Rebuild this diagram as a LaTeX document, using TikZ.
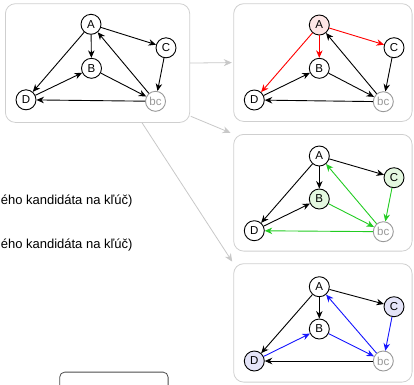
\documentclass[tikz,border=0pt]{standalone}
\usepackage{fontspec}
\setmainfont{Liberation Sans}
\usetikzlibrary{arrows.meta,calc}
\definecolor{panelgray}{HTML}{CFCFCF}
\definecolor{linkgray}{HTML}{C8C8C8}
\definecolor{ered}{HTML}{FF0000}
\definecolor{egreen}{HTML}{22CC22}
\definecolor{eblue}{HTML}{1414FF}
\definecolor{fred}{HTML}{FDE6E6}
\definecolor{fgreen}{HTML}{E4F8E0}
\definecolor{fblue}{HTML}{E4E4F8}
\definecolor{bcgray}{HTML}{999999}
\begin{document}
\begin{tikzpicture}[x=1pt,y=-1pt,
  vtx/.style={circle,draw=black,line width=0.9pt,minimum size=20pt,inner sep=0pt,
    font=\fontsize{11.5}{13}\selectfont,fill=white},
  bcvtx/.style={vtx,draw=bcgray,text=bcgray},
  edge/.style={-{Stealth[length=7.5pt,width=6.5pt]},line width=0.9pt,draw=black},
  panel/.style={draw=panelgray,rounded corners=10pt,line width=0.8pt,
    anchor=north west,inner sep=0pt},
  link/.style={draw=linkgray,line width=0.8pt,-{Stealth[length=8pt,width=7pt]}},
  caption/.style={anchor=base west,inner sep=0pt,font=\fontsize{13}{15}\selectfont}
]
\clip (0,0) rectangle (414,384);

% panels
\node[panel,minimum width=184.3pt,minimum height=118.7pt] (p1) at (5,3.3) {};
\node[panel,minimum width=178.4pt,minimum height=117.7pt] (p2) at (233.3,3.3) {};
\node[panel,minimum width=178.4pt,minimum height=116.7pt] (p3) at (233.3,134) {};
\node[panel,minimum width=178.4pt,minimum height=118.4pt] (p4) at (233.3,263.3) {};

% links between panels
\coordinate (l2a) at ($(p1.south east)+(0.7,-6.5)$);
\coordinate (l3a) at ($(p1.south)+(44.5,0)$);
\draw[link,shorten >=1.5pt] (p1.east) -- (p2.west);
\draw[link,shorten >=3pt] (l2a) -- (p3.north west);
\draw[link,shorten >=2pt] (l3a) -- (p4.north west);

% captions
\node[caption] (t1) at (0.6,204.3) {ého kandidáta na kľúč)};
\node[caption] (t2) at (0.6,248.3) {ého kandidáta na kľúč)};

% bottom box
\node[draw=black!70,rounded corners=5pt,line width=0.8pt,anchor=north west,
  minimum width=108.4pt,minimum height=30pt] (bx) at (59.3,371.7) {};

% panel 1
\begin{scope}[shift={(5,3.3)}]
\node[vtx] (a1) at (86,21) {A};
\node[vtx] (b1) at (86.5,65) {B};
\node[vtx] (c1) at (161,44.5) {C};
\node[vtx] (d1) at (21,96.5) {D};
\node[bcvtx] (e1) at (150.5,98) {bc};
\end{scope}
\draw[edge] (a1) -- (b1);
\draw[edge] (a1) -- (c1);
\draw[edge] (a1) -- (d1);
\draw[edge] (b1) -- (e1);
\draw[edge] (c1) -- (e1);
\draw[edge] (e1) -- (a1);
\draw[edge] (e1) -- (d1);
\draw[edge] (d1) -- (b1);

% panel 2
\begin{scope}[shift={(233.3,3.3)}]
\node[vtx,fill=fred] (a2) at (86,21.7) {A};
\node[vtx] (b2) at (86,65) {B};
\node[vtx] (c2) at (160.7,44.4) {C};
\node[vtx] (d2) at (21,96.7) {D};
\node[bcvtx] (e2) at (150,98.4) {bc};
\end{scope}
\draw[edge,draw=ered,color=ered] (a2) -- (b2);
\draw[edge,draw=ered,color=ered] (a2) -- (c2);
\draw[edge,draw=ered,color=ered] (a2) -- (d2);
\draw[edge] (b2) -- (e2);
\draw[edge] (c2) -- (e2);
\draw[edge] (e2) -- (a2);
\draw[edge] (e2) -- (d2);
\draw[edge] (d2) -- (b2);

% panel 3
\begin{scope}[shift={(233.3,134)}]
\node[vtx] (a3) at (86,22) {A};
\node[vtx,fill=fgreen] (b3) at (86,65) {B};
\node[vtx,fill=fgreen] (c3) at (160.7,43.7) {C};
\node[vtx] (d3) at (21,96.7) {D};
\node[bcvtx] (e3) at (150,97.7) {bc};
\end{scope}
\draw[edge] (a3) -- (b3);
\draw[edge] (a3) -- (c3);
\draw[edge] (a3) -- (d3);
\draw[edge,draw=egreen,color=egreen] (b3) -- (e3);
\draw[edge,draw=egreen,color=egreen] (c3) -- (e3);
\draw[edge,draw=egreen,color=egreen] (e3) -- (a3);
\draw[edge,draw=egreen,color=egreen] (e3) -- (d3);
\draw[edge] (d3) -- (b3);

% panel 4
\begin{scope}[shift={(233.3,263.3)}]
\node[vtx] (a4) at (86,23.4) {A};
\node[vtx] (b4) at (86,65.7) {B};
\node[vtx,fill=fblue] (c4) at (160.7,43.4) {C};
\node[vtx,fill=fblue] (d4) at (21,97.7) {D};
\node[bcvtx] (e4) at (150,97.7) {bc};
\end{scope}
\draw[edge] (a4) -- (b4);
\draw[edge] (a4) -- (c4);
\draw[edge] (a4) -- (d4);
\draw[edge,draw=eblue,color=eblue] (b4) -- (e4);
\draw[edge,draw=eblue,color=eblue] (c4) -- (e4);
\draw[edge,draw=eblue,color=eblue] (e4) -- (a4);
\draw[edge] (e4) -- (d4);
\draw[edge,draw=eblue,color=eblue] (d4) -- (b4);
\end{tikzpicture}
\end{document}
